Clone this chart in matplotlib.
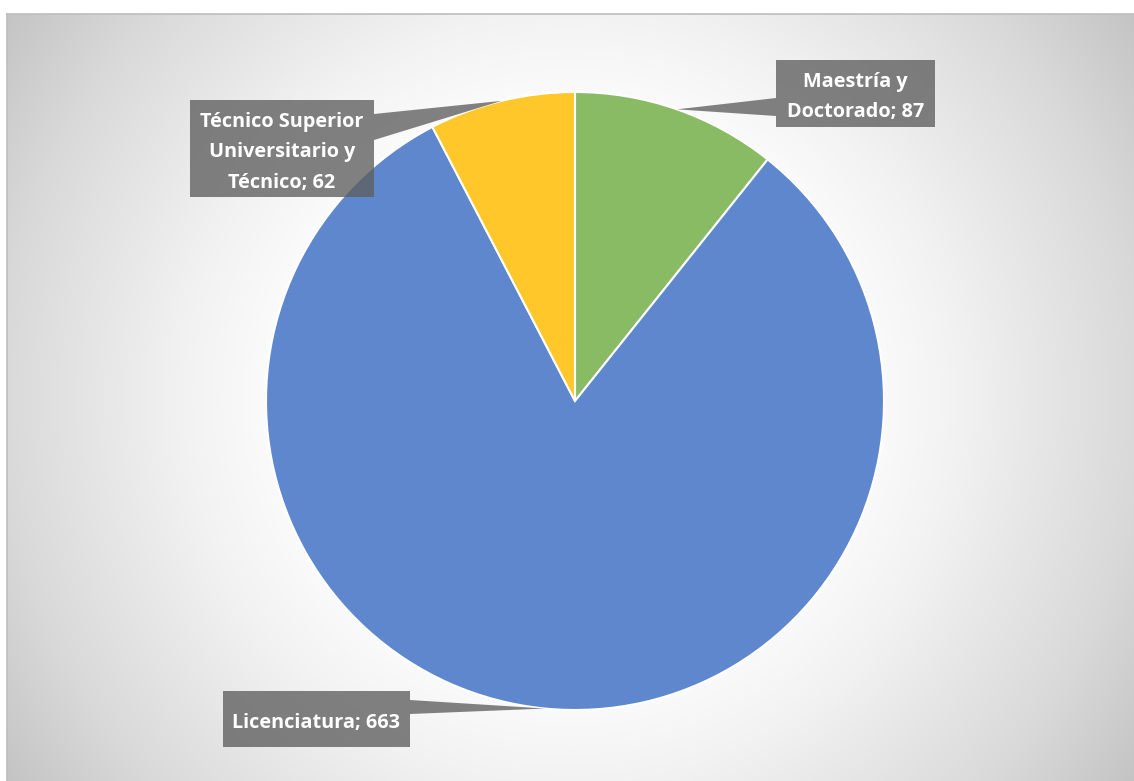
import numpy as np
import matplotlib.pyplot as plt
from matplotlib.patches import Polygon
from matplotlib.lines import Line2D

# Data
labels = ["Maestría y\nDoctorado", "Licenciatura", "Técnico Superior\nUniversitario y\nTécnico"]
values = [87, 663, 62]
colors = ["#88BB63", "#5F87CD", "#FFC729"]

W, H = 1134, 781
CX, CY, R = 575, 401, 309          # pie centre / radius in pixel space (y down)


def Y(py):
    return H - py


fig = plt.figure(figsize=(W / 100, H / 100), dpi=100)
ax = fig.add_axes([0, 0, 1, 1])

# Chart panel with a radial grey gradient
px0, py0 = 7, 14
gx = np.arange(px0, W) + 0.5
gy = np.arange(py0, H) + 0.5
XX, YY = np.meshgrid(gx, gy)
gcx, gcy = (px0 + W) / 2, (py0 + H) / 2
d = np.hypot(XX - gcx, YY - gcy)
v = np.interp(d, [0, 280, 387, 568, 687, 800], [255, 253, 242, 217, 195, 185]) / 255.0
img = np.dstack([v, v, v])
ax.imshow(img, extent=(px0, W, Y(H), Y(py0)), origin="upper", interpolation="bilinear", zorder=0)
ax.add_line(Line2D([px0, W], [Y(py0), Y(py0)], color="#BDBDBD", lw=1.2, zorder=1))
ax.add_line(Line2D([px0, px0], [Y(py0), 0], color="#BDBDBD", lw=1.2, zorder=1))

# Pie
wedges, _ = ax.pie(values, colors=colors, startangle=90, counterclock=False,
                   center=(CX, Y(CY)), radius=R, frame=True,
                   wedgeprops=dict(edgecolor="white", linewidth=1.5))
for w in wedges:
    w.set_zorder(2)

# Callout boxes: (x0, y0, x1, y1), side of the pointer, pointer base span
boxes = [
    ((776, 60, 935, 127), "left", (98, 116)),
    ((223, 691, 410, 747), "right", (700, 714)),
    ((190, 100, 374, 197), "right", (114, 140)),
]

for w, lab, val, (box, side, (b0, b1)) in zip(wedges, labels, values, boxes):
    mid = np.deg2rad((w.theta1 + w.theta2) / 2)
    tx = CX + R * np.cos(mid)
    ty = CY - R * np.sin(mid)
    x0, y0, x1, y1 = box
    if side == "right":
        pts = [(x0, y0), (x1, y0), (x1, b0), (tx, ty), (x1, b1), (x1, y1), (x0, y1)]
    else:
        pts = [(x0, y0), (x1, y0), (x1, y1), (x0, y1), (x0, b1), (tx, ty), (x0, b0)]
    poly = Polygon([(px, Y(py)) for px, py in pts], closed=True,
                   facecolor="#5E5E5E", edgecolor="none", alpha=0.78, zorder=3)
    ax.add_patch(poly)
    ax.text((x0 + x1) / 2, Y((y0 + y1) / 2 + 3.5), f"{lab}; {val}", ha="center", va="center",
            color="white", fontsize=14.3, fontweight="bold", family="Open Sans",
            linespacing=1.7, zorder=4)

ax.set_xlim(0, W)
ax.set_ylim(0, H)
ax.set_aspect("auto")
ax.axis("off")

fig.savefig("out.png", dpi=100, facecolor="white")
